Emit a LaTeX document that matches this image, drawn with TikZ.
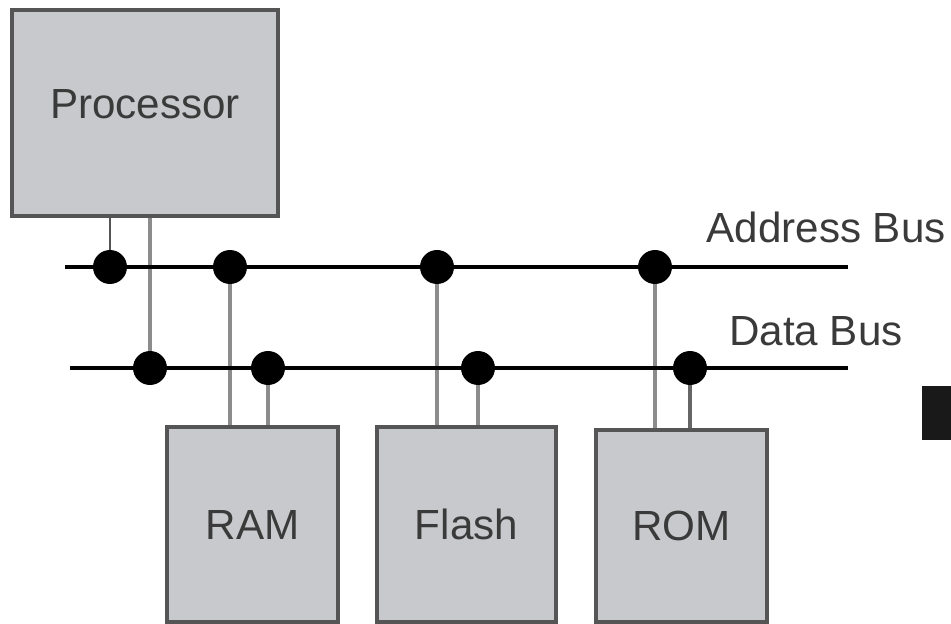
\documentclass[tikz,border=0pt]{standalone}
\usepackage{fontspec}
\setmainfont{Liberation Sans}
\usepackage{xcolor}
\usetikzlibrary{positioning}
\definecolor{boxgray}{HTML}{C8C9CD}
\definecolor{edgegray}{HTML}{555555}
\definecolor{wiregray}{HTML}{8C8C8C}
\definecolor{txtgray}{HTML}{3A3A3A}

\begin{document}
\begin{tikzpicture}[
  x=0.02cm, y=-0.02cm,
  unit/.style={draw=edgegray, line width=2.2pt, fill=boxgray, inner sep=0pt,
    font=\fontsize{24}{28}\selectfont, text=txtgray},
  bus/.style={line width=2.8pt, black},
  tap/.style={line width=2.2pt, wiregray},
  dot/.style={circle, fill=black, minimum size=0.68cm, inner sep=0pt},
  buslabel/.style={font=\fontsize{24}{28}\selectfont, text=txtgray, inner sep=0pt},
]
  \useasboundingbox (0,0) rectangle (951,624);

  % Units
  \node (proc) [unit, minimum width=5.32cm, minimum height=4.12cm,
    text depth=0.36cm] at (145,113) {Processor};
  \node (ram)   [unit, minimum width=3.42cm, minimum height=3.9cm] at (252.5,524.5) {RAM};
  \node (flash) [unit, minimum width=3.58cm, minimum height=3.9cm] at (466.5,524.5) {Flash};
  \node (rom)   [unit, minimum width=3.42cm, minimum height=3.84cm] at (681.5,526) {ROM};

  % Bus ends
  \coordinate (aw) at (65,267);
  \coordinate (ae) at (848,267);
  \coordinate (dw) at (70,368);
  \coordinate (de) at (848,368);

  % Junctions -- address bus
  \coordinate (a1) at (110,267);
  \coordinate (a2) at (230,267);
  \coordinate (a3) at (437,267);
  \coordinate (a4) at (655,267);
  % Junctions -- data bus
  \coordinate (d1) at (150,368);
  \coordinate (d2) at (268,368);
  \coordinate (d3) at (478,368);
  \coordinate (d4) at (690,368);

  % Taps
  \draw[tap, line width=1.3pt, edgegray] (proc.south -| a1) -- (a1);
  \draw[tap] (proc.south -| d1) -- (d1);
  \draw[tap] (ram.north -| a2) -- (a2);
  \draw[tap] (ram.north -| d2) -- (d2);
  \draw[tap] (flash.north -| a3) -- (a3);
  \draw[tap] (flash.north -| d3) -- (d3);
  \draw[tap] (rom.north -| a4) -- (a4);
  \draw[tap, line width=2.8pt, edgegray!90] (rom.north -| d4) -- (d4);

  % Buses
  \draw[bus] (aw) -- (ae);
  \draw[bus] (dw) -- (de);

  \foreach \j in {a1,a2,a3,a4,d1,d2,d3,d4}
    \node[dot] at (\j) {};

  % Labels
  \node (alabel) [buslabel, anchor=base east] at (946,243) {Address Bus};
  \node (dlabel) [buslabel, anchor=base east] at (903,346) {Data Bus};

  % Edge block
  \fill[black!90] (922,386) rectangle (951,440);
\end{tikzpicture}
\end{document}
